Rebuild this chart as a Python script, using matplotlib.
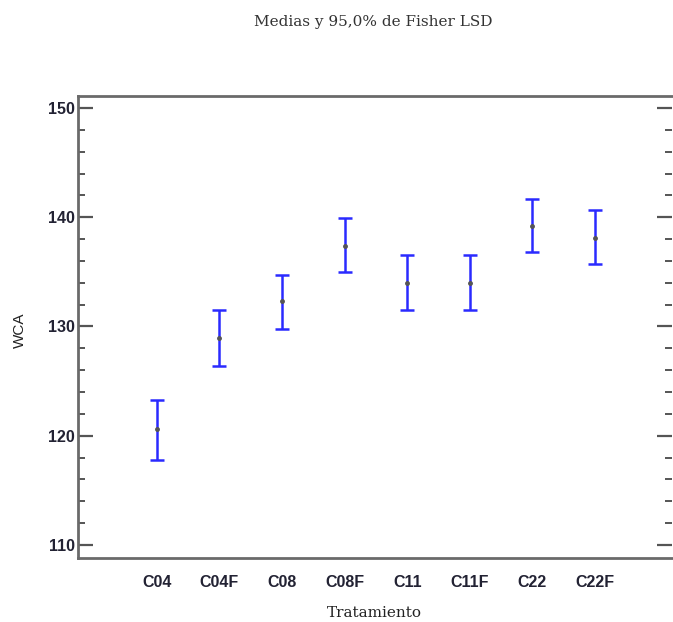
import matplotlib
matplotlib.use("Agg")
import matplotlib.pyplot as plt
import numpy as np
from matplotlib.ticker import MultipleLocator

categories = ["C04", "C04F", "C08", "C08F", "C11", "C11F", "C22", "C22F"]
means = [120.6, 128.9, 132.3, 137.4, 134.0, 134.0, 139.2, 138.1]
lower = [117.8, 126.4, 129.8, 135.0, 131.5, 131.5, 136.8, 135.7]
upper = [123.3, 131.5, 134.7, 139.9, 136.5, 136.5, 141.7, 140.7]

W, H = 673, 622
fig = plt.figure(figsize=(W / 100, H / 100), dpi=100)
ax = fig.add_axes([78 / W, 1 - 558 / H, (672 - 78) / W, (558 - 96) / H])

x = np.arange(len(categories))
m = np.array(means)
yerr = np.vstack([m - np.array(lower), np.array(upper) - m])
ax.errorbar(x, m, yerr=yerr, fmt="none", ecolor="#2a2aff", elinewidth=1.8,
            capsize=5.2, capthick=1.8, zorder=2)
ax.plot(x, m, "o", color="#555555", markersize=2.5, zorder=3)

ax.set_xlim(-1.26, 8.23)
ax.set_ylim(108.8, 151.1)
ax.set_xticks(x)
ax.set_xticklabels(categories, fontfamily="Liberation Sans", fontweight="bold",
                   fontsize=11.5, color="#222233")
ax.set_yticks([110, 120, 130, 140, 150])
ax.yaxis.set_minor_locator(MultipleLocator(2))
for lab in ax.get_yticklabels():
    lab.set_fontfamily("Liberation Sans")
    lab.set_fontweight("bold")
    lab.set_fontsize(11.5)
    lab.set_color("#222233")

ax.tick_params(axis="x", length=0, pad=12)
ax.tick_params(axis="y", which="major", direction="in", length=11, width=1.6,
               color="#555555", right=True, pad=2)
ax.tick_params(axis="y", which="minor", direction="in", length=5, width=1.4,
               color="#555555", right=True)

for s in ["left", "bottom", "top"]:
    ax.spines[s].set_color("#6a6a6a")
    ax.spines[s].set_linewidth(2)
ax.spines["right"].set_visible(False)

fig.text(373 / W, 1 - 22 / H, "Medias y 95,0% de Fisher LSD", ha="center",
         va="center", fontfamily="DejaVu Serif", fontsize=11, color="#333333")
fig.text(374 / W, 1 - 613 / H, "Tratamiento", ha="center", va="center",
         fontfamily="DejaVu Serif", fontsize=11, color="#222222")
fig.text(20 / W, 1 - 330 / H, "WCA", ha="center", va="center", rotation=90,
         fontfamily="Liberation Sans", fontsize=11, color="#222222")

fig.savefig("out.png", dpi=100, facecolor="white")
